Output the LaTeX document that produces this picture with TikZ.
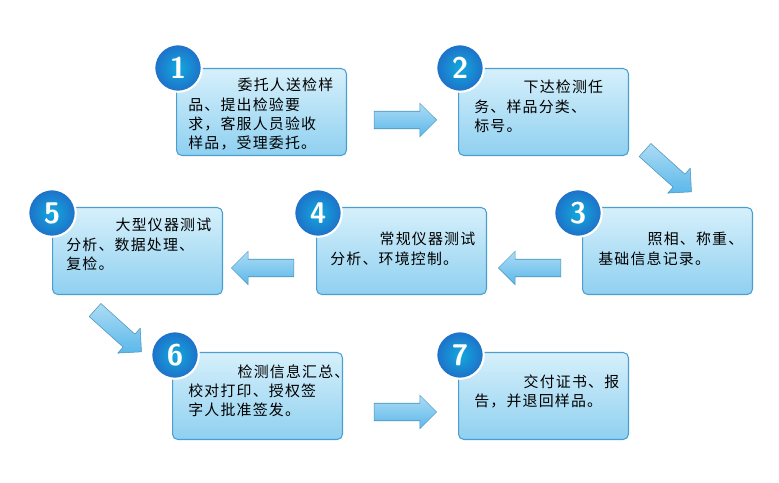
\documentclass[tikz,border=0pt]{standalone}
\usepackage{fontspec}
\newfontfamily\cjk[LetterSpace=8]{Noto Sans CJK SC}
\usetikzlibrary{shapes.arrows}
\definecolor{bxtop}{HTML}{D6F0FB}
\definecolor{bxbot}{HTML}{8FD0F0}
\definecolor{bxline}{HTML}{4A9FD0}
\definecolor{ball}{HTML}{1E70C8}
\definecolor{arr}{HTML}{5BB8EA}
\tikzset{
  box/.style={draw=bxline,line width=0.6pt,rounded corners=3pt,top color=bxtop,bottom color=bxbot,minimum width=3.4cm,minimum height=1.74cm},
  txt/.style={font=\cjk\fontsize{8.5}{11}\selectfont,align=left,inner sep=0pt},
  num/.style={circle,draw=white,line width=1.2pt,inner color=ball!60!cyan,outer color=ball,minimum size=0.95cm,text=white,font=\sffamily\bfseries\fontsize{17}{17}\selectfont},
  harr/.style={single arrow,draw=arr!80!black,line width=0.3pt,top color=arr!50,bottom color=arr,inner xsep=0pt,inner ysep=0.17cm,single arrow head extend=0.16cm,minimum height=1.25cm}
}
\begin{document}
\begin{tikzpicture}[x=0.02cm,y=-0.02cm]
\useasboundingbox (0,0) rectangle (779,483);
% boxes
\foreach \n/\x/\y in {1/176/68,2/458/68,3/582/207,4/316/207,5/52/207,6/172/352,7/458/352}
  { \node[box,anchor=north west] (b\n) at (\x,\y) {}; }
% texts
\node[txt,anchor=north west] (t1) at (188,78) {\hspace{3.3em}委托人送检样\\品、提出检验要\\求，客服人员验收\\样品，受理委托。};
\node[txt,anchor=north west] (t2) at (474,80) {\hspace{3.3em}下达检测任\\务、样品分类、\\标号。};
\node[txt,anchor=north west] (t3) at (598,232) {\hspace{3.3em}照相、称重、\\基础信息记录。};
\node[txt,anchor=north west] (t4) at (330,232) {\hspace{3.3em}常规仪器测试\\分析、环境控制。};
\node[txt,anchor=north west] (t5) at (66,218) {\hspace{3.3em}大型仪器测试\\分析、数据处理、\\复检。};
\node[txt,anchor=north west] (t6) at (188,364) {\hspace{3.3em}检测信息汇总、\\校对打印、授权签\\字人批准签发。};
\node[txt,anchor=north west] (t7) at (474,374) {\hspace{3.3em}交付证书、报\\告，并退回样品。};
% numbers
\foreach \n/\x/\y in {1/178/68,2/460/68,3/578/213,4/318/213,5/52/213,6/175/355,7/460/355}
  { \node[num] (c\n) at (\x,\y) {\n}; }
% arrows
\node[harr] (a12) at (401,120) {};
\node[harr,rotate=-42] (a23) at (665,168) {};
\node[harr,rotate=180] (a34) at (534,268) {};
\node[harr,rotate=180] (a45) at (267,268) {};
\node[harr,rotate=-42] (a56) at (115,328) {};
\node[harr] (a67) at (401,412) {};
\end{tikzpicture}
\end{document}
